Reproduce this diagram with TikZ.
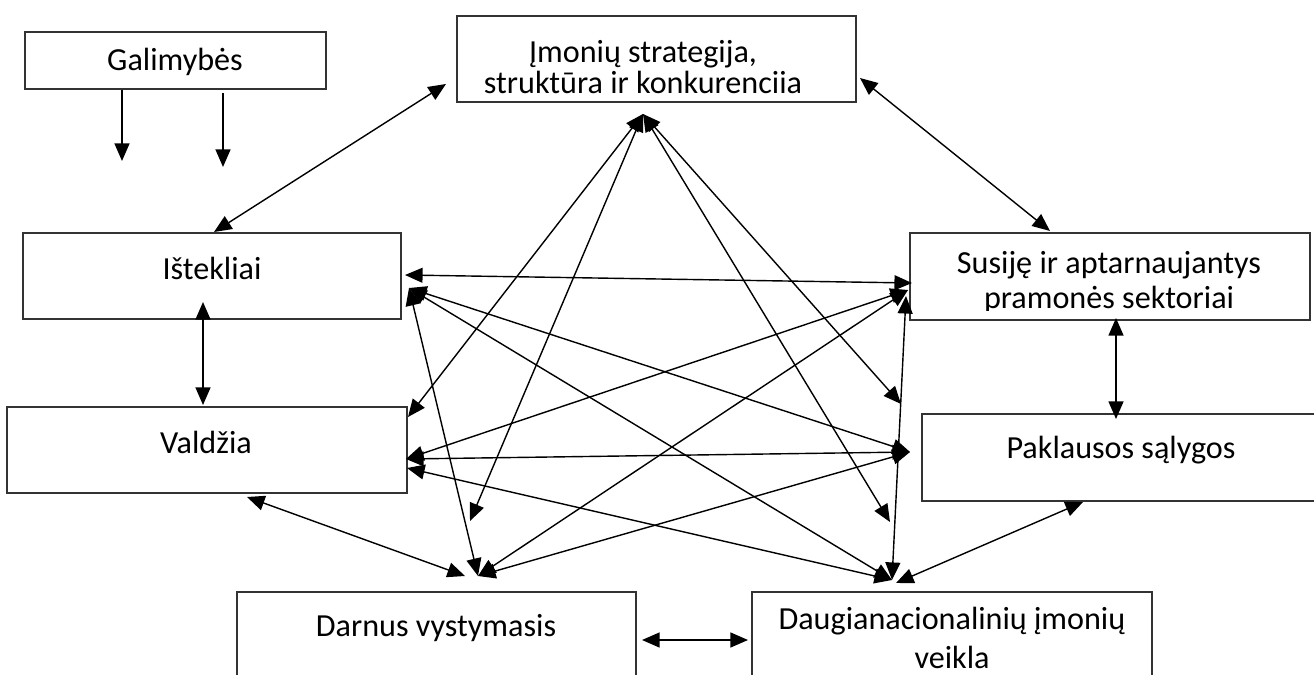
\documentclass[tikz,border=0pt]{standalone}
\usepackage{fontspec}
\setmainfont{Carlito}
\usetikzlibrary{arrows.meta,fit}
\tikzset{
  box/.style={draw=black!80, line width=1.1pt, inner sep=0pt},
  txt/.style={align=center, inner sep=0pt, font=\fontsize{18.3}{21}\selectfont},
  arr/.style={-{Triangle[length=10pt,width=8.5pt]}, line width=0.8pt},
  darr/.style={{Triangle[length=10pt,width=8.5pt]}-{Triangle[length=10pt,width=8.5pt]}, line width=0.8pt}
}
\begin{document}
\begin{tikzpicture}[x=0.02cm, y=-0.02cm]
\clip (0,0) rectangle (1314,675);
% boxes
\node[box, fit={(25,32) (326,89)}] (gal) {};
\node[box, fit={(457,16) (856,102)}] (imo) {};
\node[box, fit={(23,233) (401,319)}] (ist) {};
\node[box, fit={(7,407) (407,493)}] (val) {};
\node[box, fit={(910,233) (1310,320)}] (sus) {};
\node[box, fit={(922,414) (1330,501)}] (pak) {};
\node[box, fit={(237,592) (636,700)}] (dar) {};
\node[box, fit={(752,592) (1152,700)}] (dau) {};
% texts
\node[txt] (galt) at (175,62) {Galimybės};
\node[txt, font=\fontsize{18.3}{17.6}\selectfont] (imot) at (643,67) {Įmonių strategija,\\struktūra ir konkurenciia};
\node[txt] (istt) at (212,268) {Ištekliai};
\node[txt] (valt) at (206,442) {Valdžia};
\begin{scope}
  \clip (910,233) rectangle (1310,311);
  \node[txt, font=\fontsize{18.3}{19.9}\selectfont] (sust) at (1109,283) {Susiję ir aptarnaujantys\\pramonės sektoriai};
\end{scope}
\node[txt] (pakt) at (1121,450) {Paklausos sąlygos};
\node[txt] (dart) at (436,628) {Darnus vystymasis};
\node[txt, font=\fontsize{18.3}{22}\selectfont] (daut) at (952,638) {Daugianacionalinių įmonių\\veikla};
% end points
\coordinate (g1a) at (122,90);
\coordinate (g1b) at (122,161);
\coordinate (g2a) at (223,93);
\coordinate (g2b) at (223,167);
\coordinate (istN) at (214,232);
\coordinate (imoW) at (446,84);
\coordinate (imoE) at (860,78);
\coordinate (susN) at (1050,231);
\coordinate (istS) at (203,302);
\coordinate (valN) at (203,405);
\coordinate (susS) at (1116,318);
\coordinate (pakN) at (1116,419);
\coordinate (valS) at (247,497);
\coordinate (darN) at (465,576);
\coordinate (pakS) at (1083,502);
\coordinate (dauN) at (896,583);
\coordinate (darE) at (642,640);
\coordinate (dauW) at (748,640);
% hubs
\coordinate (imh) at (643,114);
\coordinate (is1) at (405,275);
\coordinate (is2) at (409,288);
\coordinate (va0) at (408,417);
\coordinate (va1) at (406,459);
\coordinate (va2) at (407,468);
\coordinate (su1) at (912,283);
\coordinate (su2) at (908,290);
\coordinate (su3) at (906,296);
\coordinate (pa0) at (901,404);
\coordinate (pa1) at (910,452);
\coordinate (da0) at (470,521);
\coordinate (da1) at (478,576);
\coordinate (dg0) at (890,522);
\coordinate (dg1) at (892,580);
% arrows
\draw[arr] (g1a) -- (g1b);
\draw[arr] (g2a) -- (g2b);
\draw[darr] (istN) -- (imoW);
\draw[darr] (imoE) -- (susN);
\draw[darr] (istS) -- (valN);
\draw[darr] (susS) -- (pakN);
\draw[darr] (valS) -- (darN);
\draw[darr] (pakS) -- (dauN);
\draw[darr] (darE) -- (dauW);
\draw[darr] (imh) -- (va0);
\draw[darr] (imh) -- (da0);
\draw[darr] (imh) -- (pa0);
\draw[darr] (imh) -- (dg0);
\draw[darr] (is1) -- (su1);
\draw[darr] (is2) -- (pa1);
\draw[darr] (is2) -- (dg1);
\draw[darr] (is2) -- (da1);
\draw[darr] (va1) -- (su2);
\draw[darr] (va1) -- (pa1);
\draw[darr] (va2) -- (dg1);
\draw[darr] (da1) -- (su2);
\draw[darr] (da1) -- (pa1);
\draw[darr] (su3) -- (dg1);
\end{tikzpicture}
\end{document}
